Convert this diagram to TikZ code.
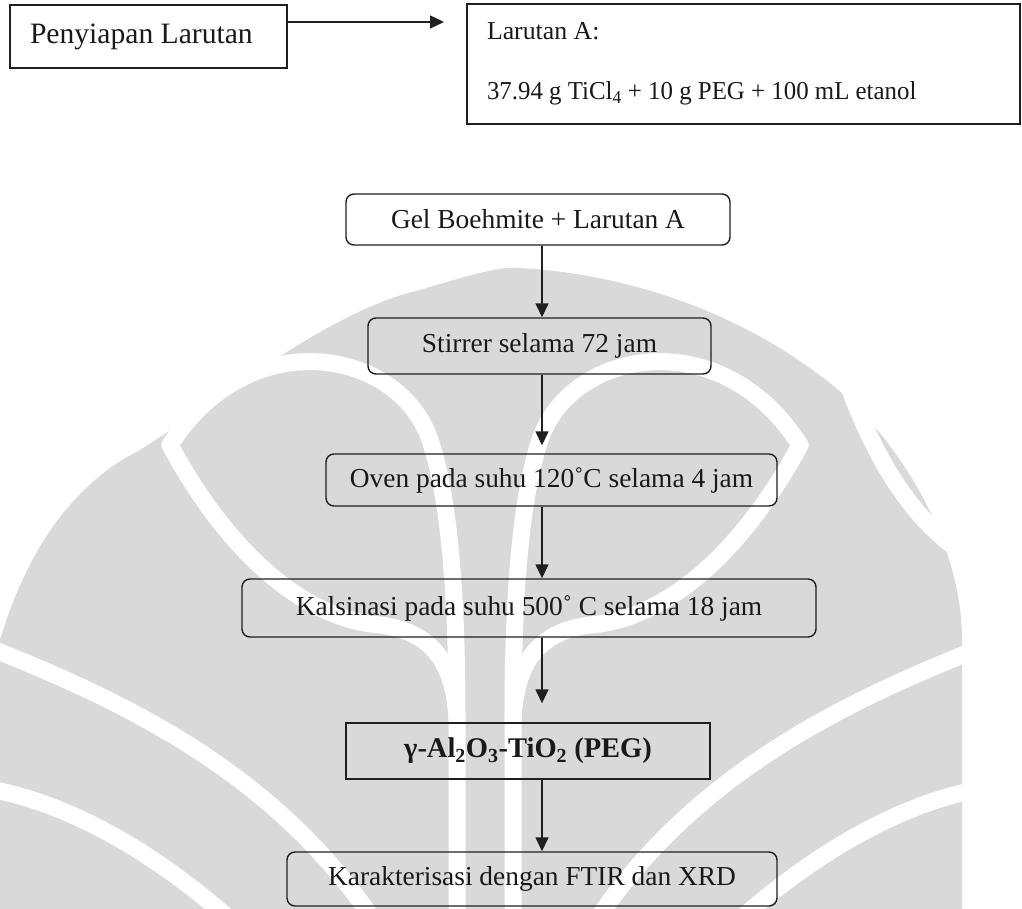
\documentclass[tikz,border=0pt]{standalone}
\usepackage{fontspec}
\setmainfont{Liberation Serif}
\newfontfamily\condserif[FakeStretch=0.964]{Liberation Serif}
\usetikzlibrary{arrows.meta,calc}
\definecolor{wmgray}{RGB}{217,217,217}
\begin{document}
\begin{tikzpicture}[x=1pt,y=-1pt,
  box/.style={draw=black!88, line width=1.4pt, inner sep=0pt, text=black!90},
  procbox/.style={box, rounded corners=8pt, font=\fontsize{27.4}{32}\selectfont},
  arr/.style={-{Triangle[length=14pt,width=13pt]}, line width=1.4pt, draw=black!88},
  wmgap/.style={draw=white, line width=17pt, line cap=round},
]
\useasboundingbox (0,0) rectangle (1022,909);
\fill[white] (0,0) rectangle (1022,909);

% faint emblem in the background
\begin{scope}
  \clip (0,0) rectangle (1022,909);
  \fill[wmgray] (0,909) -- (0,640) .. controls (30,540) and (80,480) .. (140,450)
     .. controls (220,400) and (330,310) .. (420,290) .. controls (470,275) and (500,266) .. (520,268)
     .. controls (640,275) and (760,320) .. (850,400) .. controls (920,470) and (962,560) .. (962,640)
     -- (962,909) -- cycle;
  % right half of the emblem
  \draw[wmgap] (513,915) -- (513,720) .. controls (516,660) and (540,628) .. (600,624)
     .. controls (690,610) and (760,520) .. (800,445);
  \draw[wmgap] (513,720) .. controls (513,600) and (520,500) .. (540,440)
     .. controls (570,350) and (720,320) .. (800,445);
  \draw[wmgap] (600,915) .. controls (700,770) and (850,700) .. (975,650);
  \draw[wmgap] (745,915) .. controls (820,850) and (900,805) .. (975,790);
  \draw[wmgap] (850,390) .. controls (880,470) and (920,530) .. (975,560);
  % left half of the emblem
  \draw[wmgap] (457,915) -- (457,720) .. controls (454,660) and (430,628) .. (370,624)
     .. controls (280,610) and (210,520) .. (170,445);
  \draw[wmgap] (457,720) .. controls (457,600) and (450,500) .. (430,440)
     .. controls (400,350) and (250,320) .. (170,445);
  \draw[wmgap] (370,915) .. controls (270,770) and (120,700) .. (-5,650);
  \draw[wmgap] (225,915) .. controls (150,850) and (70,805) .. (-5,790);
\end{scope}

% top row: preparation of solution A
\node[box, minimum height=63pt, text width=237pt, align=flush left, inner xsep=20pt,
      font=\fontsize{29.6}{34}\selectfont] (prep) at (148.5,36.5) {Penyiapan Larutan};
\node[box, minimum height=120pt, text width=513pt, align=flush left, inner xsep=20pt,
      font=\fontsize{25.8}{60}\selectfont] (solA) at (743.5,64)
      {Larutan A:\\{\condserif 37.94 g TiCl\textsubscript{4} + 10 g PEG + 100 mL etanol}};
\coordinate (solAin) at (444,22);
\draw[arr] (prep.east |- solAin) -- (solAin);

% main process chain
\node[procbox, minimum width=384pt, minimum height=51pt] (gel)  at (538,219.5) {Gel Boehmite + Larutan A};
\node[procbox, minimum width=343pt, minimum height=56pt] (stir) at (539.5,346) {Stirrer selama 72 jam};
\node[procbox, minimum width=451pt, minimum height=52pt] (oven) at (551.5,480) {Oven pada suhu 120˚C selama 4 jam};
\node[procbox, minimum width=574pt, minimum height=58pt] (calc) at (529,608) {Kalsinasi pada suhu 500˚ C selama 18 jam};
\node[box, minimum width=364pt, minimum height=56pt,
      font=\fontsize{28.5}{33}\selectfont\bfseries] (prod) at (528,751)
      {γ-Al\textsubscript{2}O\textsubscript{3}-TiO\textsubscript{2} (PEG)};
\node[procbox, minimum width=490pt, minimum height=54pt] (char) at (532,879) {Karakterisasi dengan FTIR dan XRD};

\coordinate (ax) at (542,0);
\draw[arr] (gel.south -| ax) -- (stir.north -| ax);
\draw[arr, shorten >=8pt] (stir.south -| ax) -- (oven.north -| ax);
\draw[arr] (oven.south -| ax) -- (calc.north -| ax);
\draw[arr, shorten >=19pt] (calc.south -| ax) -- (prod.north -| ax);
\draw[arr] (prod.south -| ax) -- (char.north -| ax);
\end{tikzpicture}
\end{document}
